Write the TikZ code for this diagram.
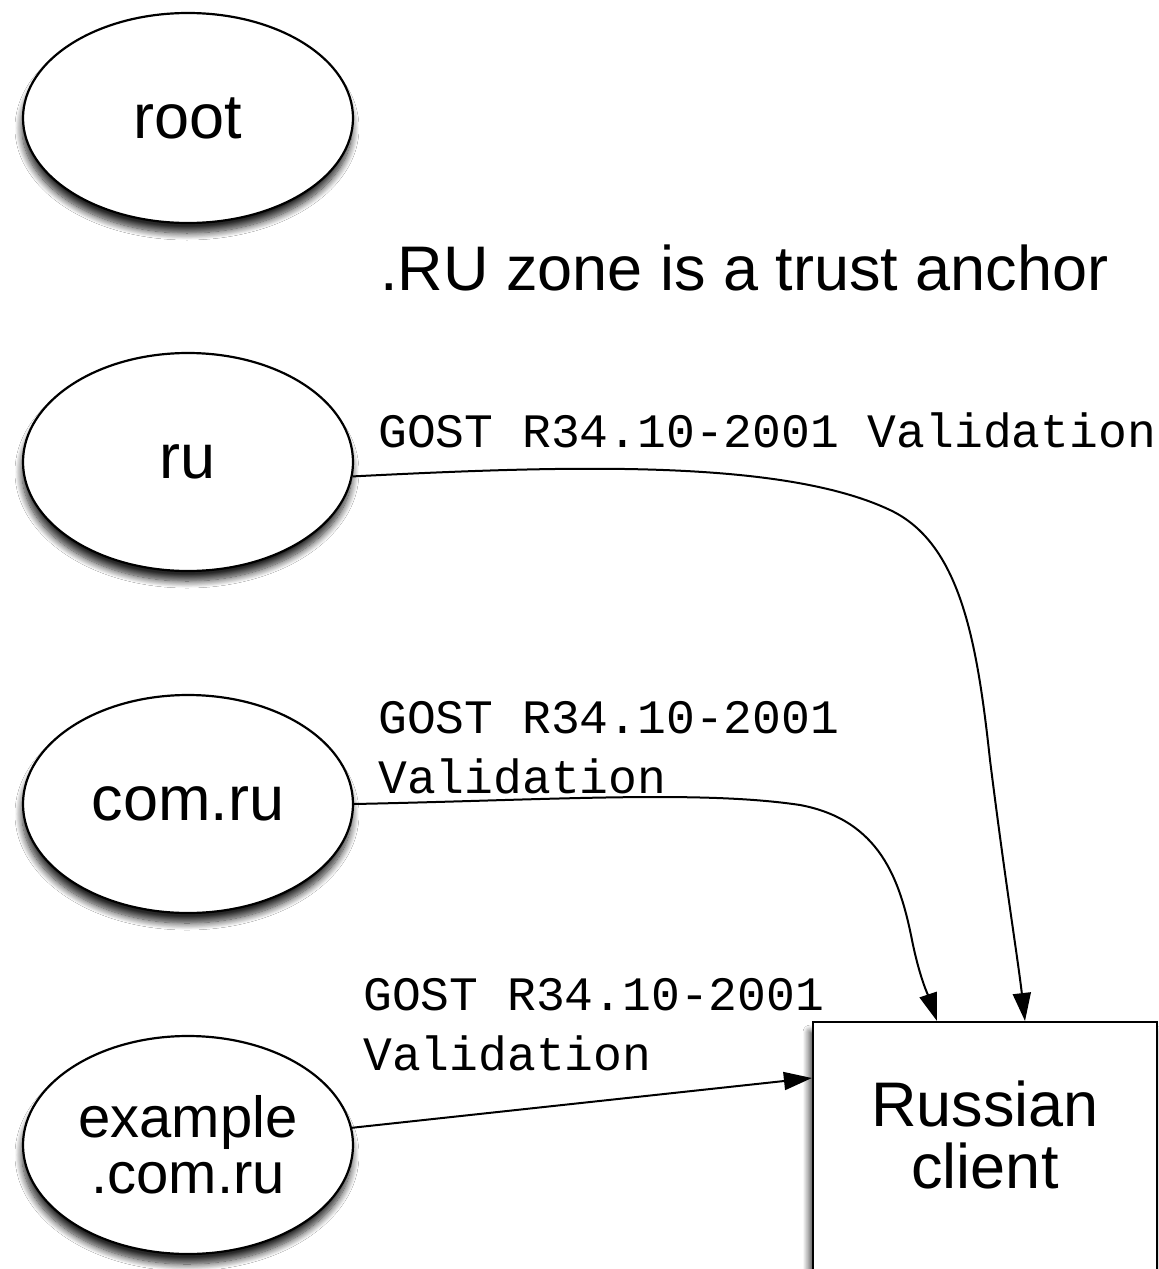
\documentclass[tikz,border=0pt]{standalone}
\usepackage{fontspec}
\setmainfont{Liberation Sans}
\newfontfamily\monofont{Liberation Mono}
\usetikzlibrary{shapes.geometric,arrows.meta,shadows.blur}
\tikzset{
  zone/.style={ellipse, draw, line width=2.2pt, fill=white, inner sep=0pt,
    minimum width=330pt, minimum height=218pt, align=center,
    font=\fontsize{63}{62}\selectfont,
    blur shadow={shadow xshift=-1pt, shadow yshift=-10pt, shadow blur radius=7pt, shadow blur steps=12, shadow opacity=85}},
  clientbox/.style={rectangle, draw, line width=2.2pt, fill=white, inner sep=0pt,
    minimum width=344pt, minimum height=320pt,
    blur shadow={shadow xshift=-3pt, shadow yshift=-10pt, shadow blur radius=7pt, shadow blur steps=12, shadow opacity=85}},
  bigtext/.style={inner sep=0pt, align=center, font=\fontsize{63}{62}\selectfont},
  monolabel/.style={inner sep=0pt, align=left, font=\monofont\fontsize{48}{60}\selectfont},
  conn/.style={line width=2pt, -{Triangle[length=28pt,width=18pt]}}
}
\begin{document}
\begin{tikzpicture}[x=1pt,y=-1pt]
\path[use as bounding box, clip] (0,0) rectangle (1159,1269);
\fill[white] (0,0) rectangle (1159,1269);

\node[zone, minimum height=210pt] (root) at (188,118) {root};
\node[zone] (ru) at (188,462) {ru};
\node[zone] (com) at (188,804) {com.ru};
\node[zone, font=\fontsize{58}{56}\selectfont] (ex) at (188,1145) {example\\.com.ru};

\node[bigtext, anchor=base west] (title) at (380,290) {.RU zone is a trust anchor};

\node[clientbox, anchor=north] (client) at (985,1021) {};
\node[bigtext] (clienttext) at (985,1135) {Russian\\client};

\node[monolabel, anchor=base west] (lru) at (378,447) {GOST R34.10-2001 Validation};
\node[monolabel, anchor=west] (lcom) at (378,748) {GOST R34.10-2001\\Validation};
\node[monolabel, anchor=west] (lex) at (363,1025) {GOST R34.10-2001\\Validation};

\draw[conn] (ru.-5) .. controls (560,466) and (780,458) .. (890,510)
  .. controls (960,543) and (977,640) .. (990,760)
  .. controls (1005,880) and (1018,960) .. ([xshift=40pt]client.north);
\draw[conn] (com.east) .. controls (550,800) and (700,790) .. (800,805)
  .. controls (880,820) and (900,880) .. (912,940)
  .. controls (920,980) and (930,1000) .. ([xshift=-48pt]client.north);
\draw[conn] (ex.6) -- ([yshift=-57pt]client.north west);
\end{tikzpicture}
\end{document}
